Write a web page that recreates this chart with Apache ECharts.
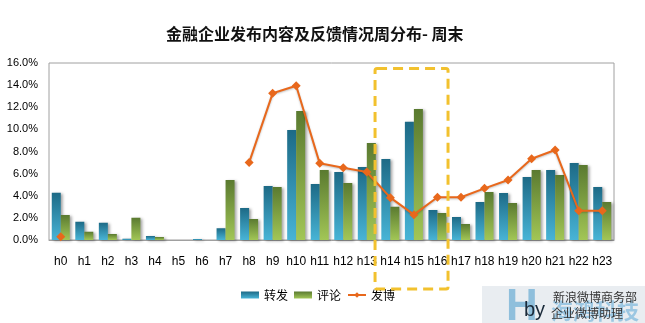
<!DOCTYPE html>
<html><head><meta charset="utf-8">
<script src="https://cdn.jsdelivr.net/npm/echarts@6/dist/echarts.min.js"></script>
<style>html,body{margin:0;padding:0;background:#fff}#c{width:645px;height:323px}</style>
</head><body><div id="c"></div>
<script>
var categories = ['h0','h1','h2','h3','h4','h5','h6','h7','h8','h9','h10','h11','h12','h13','h14','h15','h16','h17','h18','h19','h20','h21','h22','h23'];
var zhuanfa = [4.28,1.66,1.57,0.12,0.36,0,0.1,1.06,2.89,4.88,9.95,5.06,6.15,6.6,7.32,10.7,2.71,2.08,3.44,4.25,5.7,6.33,6.96,4.79];
var pinglun = [2.26,0.75,0.54,2.02,0.27,0,0,5.42,1.9,4.79,11.66,6.33,5.15,8.77,3.01,11.84,2.44,1.45,4.34,3.35,6.33,5.88,6.78,3.44];
var fabo = [0.3,null,null,null,null,null,null,null,7.0,13.26,13.95,6.93,6.54,6.15,3.83,2.29,3.86,3.86,4.67,5.42,7.35,8.14,2.65,2.65];
var yTicks = [0,2,4,6,8,10,12,14,16];
var seriesNames = ['转发','评论','发博'];
var title = '金融企业发布内容及反馈情况周分布- 周末';

var chart = echarts.init(document.getElementById('c'));
var font = 'Liberation Sans, Noto Sans CJK SC, sans-serif';
var blueGrad = new echarts.graphic.LinearGradient(0,0,0,1,[{offset:0,color:'#1d6a86'},{offset:1,color:'#48b4d6'}]);
var greenGrad = new echarts.graphic.LinearGradient(0,0,0,1,[{offset:0,color:'#5a7a30'},{offset:1,color:'#a2c656'}]);
chart.setOption({
  animation:false,
  title:{text:title,left:161,top:21,textStyle:{fontSize:16,fontWeight:'bold',color:'#111',fontFamily:'Noto Sans CJK SC'}},
  grid:{left:49,right:31,top:63,bottom:83,show:true,borderColor:'#a0a0a0',borderWidth:1,backgroundColor:'transparent'},
  legend:{top:284,left:236,itemWidth:18,itemHeight:7,itemGap:6,textStyle:{fontSize:12,color:'#000',fontFamily:'Noto Sans CJK SC'},
    data:[{name:seriesNames[0],icon:'rect'},{name:seriesNames[1],icon:'rect'},{name:seriesNames[2]}]},
  xAxis:{type:'category',data:categories,axisTick:{show:false},axisLine:{lineStyle:{color:'#a0a0a0'}},
    axisLabel:{fontSize:12,color:'#000',margin:16,interval:0,fontFamily:font}},
  yAxis:{type:'value',min:0,max:16,interval:2,splitLine:{show:false},axisLine:{show:false},axisTick:{show:false},
    axisLabel:{fontSize:11,color:'#000',margin:11,fontFamily:font,formatter:function(v){return v.toFixed(1)+'%';}}},
  series:[
    {name:seriesNames[0],type:'bar',data:zhuanfa,barWidth:9,barGap:'0%',
      itemStyle:{color:blueGrad,shadowColor:'rgba(0,0,0,0.35)',shadowBlur:3,shadowOffsetX:2,shadowOffsetY:1}},
    {name:seriesNames[1],type:'bar',data:pinglun,barWidth:9,barGap:'0%',
      itemStyle:{color:greenGrad,shadowColor:'rgba(0,0,0,0.35)',shadowBlur:3,shadowOffsetX:2,shadowOffsetY:1}},
    {name:seriesNames[2],type:'line',data:fabo,connectNulls:false,symbol:'diamond',symbolSize:9,
      lineStyle:{color:'#e8681c',width:2,shadowColor:'rgba(0,0,0,0.25)',shadowBlur:2,shadowOffsetY:1},
      itemStyle:{color:'#e8681c'},z:5}
  ]
});
var bw = chart.convertToPixel({xAxisIndex:0},'h15') - chart.convertToPixel({xAxisIndex:0},'h14');
var x1 = chart.convertToPixel({xAxisIndex:0},'h14') - 0.65*bw;
var x2 = chart.convertToPixel({xAxisIndex:0},'h16') + 0.45*bw;
var yTop = chart.convertToPixel({yAxisIndex:0},15.5);
var yBot = chart.convertToPixel({yAxisIndex:0},0) + 49;
chart.setOption({graphic:[
  {type:'rect',shape:{x:x1,y:yTop,width:x2-x1,height:yBot-yTop,r:2},z:20,
   style:{fill:'none',stroke:'#f2c12e',lineWidth:3,lineDash:[10,6]}},
  {type:'rect',shape:{x:482,y:286,width:163,height:37},z:1,style:{fill:'#e9edf1'}},
  {type:'text',x:506,y:286,z:2,style:{text:'H',font:'bold 44px Liberation Sans',fill:'#8fbfdc'}},
  {type:'text',x:551,y:300,z:2,style:{text:'海鸿科技',font:'bold 22px Noto Sans CJK SC',fill:'#9cc7e2'}},
  {type:'text',x:524,y:300,z:3,style:{text:'by',font:'20px Liberation Sans',fill:'#1a2a3a'}},
  {type:'text',x:553,y:291,z:3,style:{text:'新浪微博商务部',font:'12px Noto Sans CJK SC',fill:'#333'}},
  {type:'text',x:551,y:307,z:3,style:{text:'企业微博助理',font:'12px Noto Sans CJK SC',fill:'#333'}}
]});
</script></body></html>
